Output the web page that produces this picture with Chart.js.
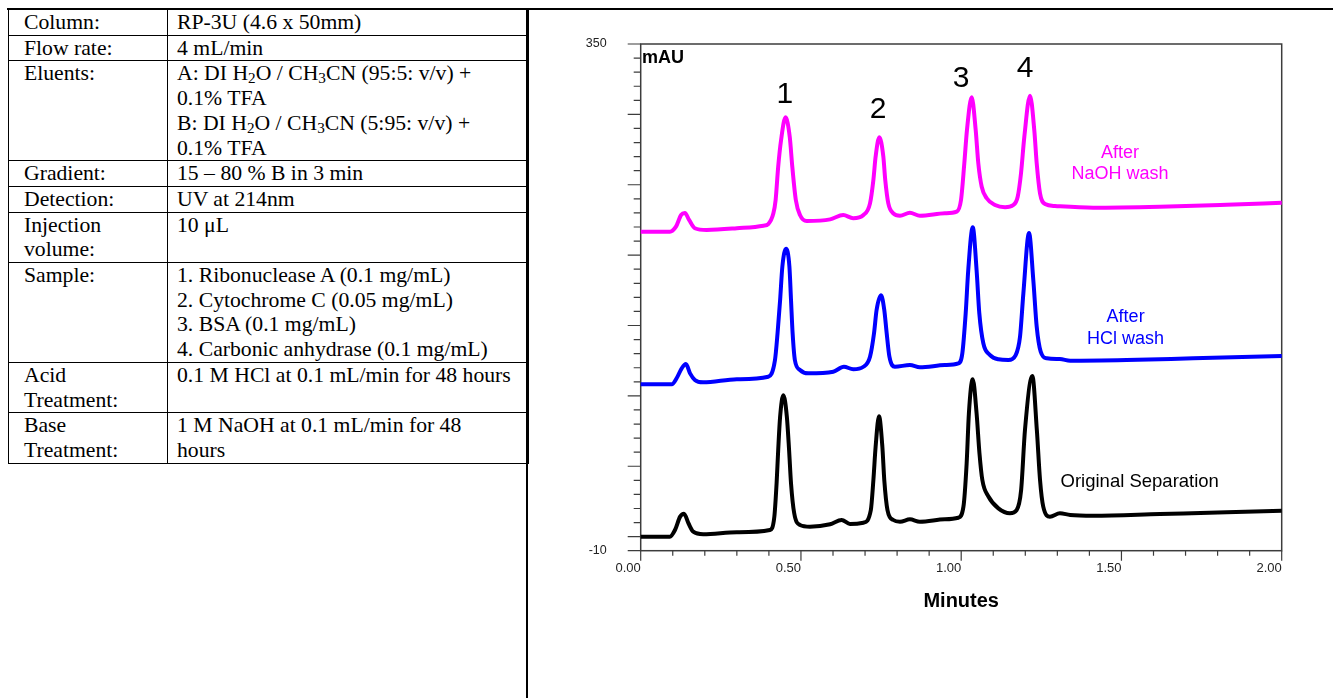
<!DOCTYPE html>
<html>
<head>
<meta charset="utf-8">
<script src="https://cdn.jsdelivr.net/npm/chart.js@4/dist/chart.umd.min.js"></script>
<style>
  body { margin: 0; background: #fff; width: 1333px; height: 698px; position: relative; overflow: hidden; }
  #topRule { position: absolute; left: 7px; top: 8px; width: 1326px; height: 2px; background: #000; }
  #sideRule { position: absolute; left: 526px; top: 8px; width: 2px; height: 690px; background: #000; }
  table.cond { position: absolute; left: 8px; top: 9px; width: 520px; table-layout: fixed;
    border-collapse: collapse; font-family: "Liberation Serif", "Times New Roman", serif; font-size: 21.7px; color: #000; }
  table.cond td { border: 1.5px solid #000; vertical-align: top; line-height: 24.7px; padding: 0 0 0 9px; white-space: nowrap; }
  table.cond td.k { padding-left: 15px; }
  table.cond sub { font-size: 0.7em; vertical-align: -0.2em; line-height: 0; }
  #chartBox { position: absolute; left: 529px; top: 11px; width: 804px; height: 687px; }
</style>
</head>
<body>
<div id="topRule"></div>
<div id="sideRule"></div>
<table class="cond">
  <colgroup><col style="width:159px"><col style="width:361px"></colgroup>
  <tr><td class="k">Column:</td><td>RP-3U (4.6 x 50mm)</td></tr>
  <tr><td class="k">Flow rate:</td><td>4 mL/min</td></tr>
  <tr><td class="k">Eluents:</td><td>A: DI H<sub>2</sub>O / CH<sub>3</sub>CN (95:5: v/v) +<br>0.1% TFA<br>B: DI H<sub>2</sub>O / CH<sub>3</sub>CN (5:95: v/v) +<br>0.1% TFA</td></tr>
  <tr><td class="k">Gradient:</td><td>15 – 80 % B in 3 min</td></tr>
  <tr><td class="k">Detection:</td><td>UV at 214nm</td></tr>
  <tr><td class="k">Injection<br>volume:</td><td>10 μL</td></tr>
  <tr><td class="k">Sample:</td><td>1. Ribonuclease A (0.1 mg/mL)<br>2. Cytochrome C (0.05 mg/mL)<br>3. BSA (0.1 mg/mL)<br>4. Carbonic anhydrase (0.1 mg/mL)</td></tr>
  <tr><td class="k">Acid<br>Treatment:</td><td>0.1 M HCl at 0.1 mL/min for 48 hours</td></tr>
  <tr><td class="k">Base<br>Treatment:</td><td>1 M NaOH at 0.1 mL/min for 48<br>hours</td></tr>
</table>
<div id="chartBox"><canvas id="chromatogram" width="804" height="687"></canvas></div>
<script>
// traces (minutes, mAU)
const originalMinutes = [0, 0.091, 0.107, 0.123, 0.135, 0.149, 0.164, 0.195, 0.300, 0.403, 0.417, 0.424, 0.429, 0.435, 0.445,
  0.456, 0.463, 0.469, 0.479, 0.497, 0.528, 0.591, 0.627, 0.653, 0.695, 0.718, 0.726, 0.733, 0.7435, 0.754, 0.760, 0.770,
  0.788, 0.809, 0.840, 0.871, 0.949, 0.991, 1.007, 1.017, 1.024, 1.036, 1.048, 1.057, 1.066, 1.085, 1.116, 1.152, 1.173,
  1.187, 1.199, 1.222, 1.236, 1.246, 1.256, 1.277, 1.308, 1.340, 1.412, 1.620, 1.828, 2.000]
const originalMAU = [0, 0, 4.7, 14.2, 16.3, 9.5, 3.5, 1.7, 3.1, 4.7, 14.2, 37.9, 61.5, 85.2, 100.4,
  85.2, 61.5, 37.9, 16.6, 8.3, 7.1, 8.8, 11.8, 9.0, 9.9, 18.9, 40.2, 63.9, 85.5, 63.9, 40.2, 18.9,
  11.8, 10.6, 12.3, 10.6, 12.3, 13.4, 21.3, 52.1, 87.6, 111.8, 87.6, 59.2, 40.2, 28.5, 20.1, 16.6, 18.9,
  33.1, 75.8, 114.1, 75.8, 40.2, 21.3, 14.2, 16.6, 15.4, 14.9, 16.1, 17.3, 18.4]

const hclMinutes = [0, 0.097, 0.112, 0.128, 0.141, 0.154, 0.169, 0.195, 0.300, 0.398, 0.419, 0.427, 0.435, 0.442, 0.4534,
  0.464, 0.469, 0.474, 0.481, 0.497, 0.523, 0.601, 0.634, 0.663, 0.695, 0.7155, 0.728, 0.736, 0.750, 0.760, 0.7675, 0.776,
  0.793, 0.840, 0.871, 0.949, 0.991, 1.0035, 1.014, 1.022, 1.036, 1.048, 1.0565, 1.069, 1.090, 1.116, 1.147, 1.170, 1.1835,
  1.194, 1.2116, 1.225, 1.2356, 1.248, 1.267, 1.308, 1.340, 1.516, 1.724, 2.000]
const hclMAU = [108.2, 108.2, 112.5, 119.6, 122.6, 116, 111.3, 109.6, 111.8, 113.6, 125.5, 144.5, 168.1, 191.8, 204.6,
  191.8, 168.1, 144.5, 125.5, 118.4, 116.0, 117.2, 120.7, 118.9, 120.7, 127.8, 144.5, 161, 171.5, 161, 144.5, 127.8,
  120.7, 121.9, 120.3, 121.9, 123.1, 130.2, 158.7, 189.4, 219.8, 189.4, 158.7, 137.4, 129, 126, 125.5, 129, 142,
  172.9, 215.7, 182.3, 149.1, 131.4, 126.7, 126.2, 125, 125.5, 126.7, 128.3]

const naohMinutes = [0, 0.091, 0.110, 0.126, 0.138, 0.151, 0.169, 0.206, 0.300, 0.383, 0.398, 0.414, 0.421, 0.429, 0.438,
  0.452, 0.465, 0.473, 0.484, 0.497, 0.518, 0.591, 0.632, 0.663, 0.695, 0.7155, 0.726, 0.733, 0.7445, 0.757, 0.763, 0.7726,
  0.788, 0.809, 0.840, 0.871, 0.949, 0.986, 0.9994, 1.0097, 1.018, 1.0327, 1.0452, 1.0534, 1.064, 1.0796, 1.1055, 1.1367,
  1.1626, 1.1763, 1.1866, 1.197, 1.2147, 1.228, 1.2356, 1.2459, 1.2615, 1.2927, 1.412, 1.620, 1.828, 2.000]
const naohMAU = [216.6, 216.6, 220.2, 228.5, 229.9, 225, 219.1, 217.9, 219.1, 220.9, 222.1, 229.7, 239.2, 262.8, 281.8,
  297.9, 284.1, 262.8, 239.2, 228.5, 224.2, 225.4, 228.5, 226.2, 228.5, 236.8, 253.4, 270, 283.7, 270, 253.4, 236.8,
  229.7, 228, 230.1, 228, 229.7, 230.9, 239.2, 265.2, 288.9, 312.1, 288.9, 265.2, 248.6, 240.4, 235.6, 234,
  235.6, 241.5, 258.1, 284.1, 313.3, 288.9, 265.2, 243.9, 236.3, 234.9, 233.7, 234.4, 235.8, 237.2]

const yLabelled = [350, -10]

// text written inside the plot, placed in data units
const notes = [
  { text: "mAU", x: 0.004, y: 339.7, color: "#000", font: "bold 18px 'Liberation Sans', Arial", align: "left" },
  { text: "1", x: 0.450, y: 314, color: "#000", font: "30px 'Liberation Sans', Arial" },
  { text: "2", x: 0.741, y: 303.1, color: "#000", font: "30px 'Liberation Sans', Arial" },
  { text: "3", x: 1.000, y: 325.6, color: "#000", font: "30px 'Liberation Sans', Arial" },
  { text: "4", x: 1.199, y: 332.1, color: "#000", font: "30px 'Liberation Sans', Arial" },
  { text: "After", x: 1.4955, y: 272.6, color: "#ff00ff", font: "18px 'Liberation Sans', Arial" },
  { text: "NaOH wash", x: 1.4955, y: 257.4, color: "#ff00ff", font: "18px 'Liberation Sans', Arial" },
  { text: "After", x: 1.513, y: 156, color: "#0000ff", font: "18px 'Liberation Sans', Arial" },
  { text: "HCl wash", x: 1.513, y: 140.6, color: "#0000ff", font: "18px 'Liberation Sans', Arial" },
  { text: "Original Separation", x: 1.557, y: 38.8, color: "#000", font: "18.5px 'Liberation Sans', Arial" }
]

function pairUp(xs, ys) {
  return xs.map((x, i) => ({ x: x, y: ys[i] }))
}

function isMajorX(v) {
  return Math.abs(v * 2 - Math.round(v * 2)) < 1e-6
}

const framePlugin = {
  id: "frame",
  beforeDatasetsDraw(chart) {
    const { ctx, chartArea: a, scales } = chart
    ctx.save()
    ctx.strokeStyle = "#3c3c3c"
    ctx.lineWidth = 1.5
    ctx.strokeRect(a.left, a.top, a.right - a.left, a.bottom - a.top)
    ctx.lineWidth = 1.2
    ctx.beginPath()
    scales.y.ticks.forEach(t => {
      const py = scales.y.getPixelForValue(t.value)
      const len = (t.value % 50 === 0 || t.value === -10) ? 13 : 7
      ctx.moveTo(a.left - len, py)
      ctx.lineTo(a.left, py)
    })
    scales.x.ticks.forEach(t => {
      const px = scales.x.getPixelForValue(t.value)
      const len = isMajorX(t.value) ? 10 : 5
      ctx.moveTo(px, a.bottom)
      ctx.lineTo(px, a.bottom + len)
    })
    ctx.stroke()
    ctx.restore()
  }
}

const notesPlugin = {
  id: "notes",
  afterDatasetsDraw(chart) {
    const { ctx, scales } = chart
    ctx.save()
    ctx.textBaseline = "middle"
    notes.forEach(n => {
      ctx.font = n.font
      ctx.fillStyle = n.color
      ctx.textAlign = n.align || "center"
      ctx.fillText(n.text, scales.x.getPixelForValue(n.x), scales.y.getPixelForValue(n.y))
    })
    ctx.restore()
  }
}

const traceStyle = {
  borderWidth: 4,
  pointRadius: 0,
  cubicInterpolationMode: "monotone",
  borderJoinStyle: "round",
  borderCapStyle: "round",
  fill: false
}

let ctx = document.getElementById("chromatogram")
let chart = new Chart(ctx, {
  type: "line",
  data: {
    datasets: [
      { ...traceStyle, label: "After NaOH wash", data: pairUp(naohMinutes, naohMAU), borderColor: "#ff00ff" },
      { ...traceStyle, label: "After HCl wash", data: pairUp(hclMinutes, hclMAU), borderColor: "#0000ff" },
      { ...traceStyle, label: "Original Separation", data: pairUp(originalMinutes, originalMAU), borderColor: "#000000" }
    ]
  },
  options: {
    responsive: false,
    animation: false,
    layout: { padding: { left: 0, top: 33, right: 51.3, bottom: 0 } },
    plugins: {
      legend: { display: false },
      tooltip: { enabled: false }
    },
    scales: {
      x: {
        type: "linear",
        min: 0,
        max: 2,
        ticks: {
          stepSize: 0.1,
          maxTicksLimit: 100,
          autoSkip: false,
          maxRotation: 0,
          align: "end",
          padding: 10,
          color: "#222",
          font: { family: "'Liberation Sans', Arial", size: 13 },
          callback: v => isMajorX(v) ? v.toFixed(2) : ""
        },
        grid: { display: false, drawTicks: false },
        border: { display: false },
        title: {
          display: true,
          text: "Minutes",
          color: "#000",
          font: { family: "'Liberation Sans', Arial", size: 20, weight: "bold" },
          padding: { top: 0, bottom: 85 }
        },
        afterFit: s => { s.height = 147.3 }
      },
      y: {
        min: -10,
        max: 350,
        ticks: {
          stepSize: 10,
          maxTicksLimit: 100,
          autoSkip: false,
          padding: 34,
          color: "#222",
          font: { family: "'Liberation Sans', Arial", size: 12.5 },
          callback: v => yLabelled.includes(v) ? String(v) : ""
        },
        grid: { display: false, drawTicks: false },
        border: { display: false },
        afterFit: s => {
          s.width = 111.7
          // the label padding would otherwise push the plot top down
          s.paddingTop = 7
          s.paddingBottom = 7
        }
      }
    }
  },
  plugins: [framePlugin, notesPlugin]
})
</script>
</body>
</html>
